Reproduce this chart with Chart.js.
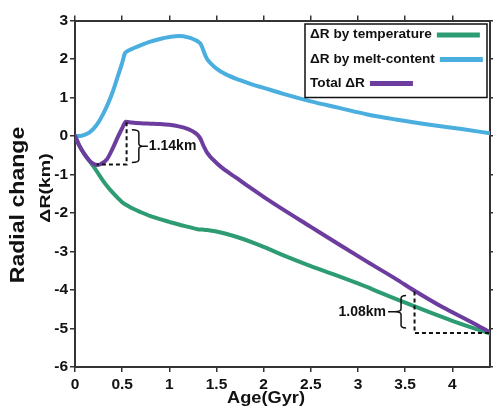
<!DOCTYPE html>
<html><head><meta charset="utf-8">
<script src="https://cdn.jsdelivr.net/npm/chart.js@4.4.0/dist/chart.umd.min.js"></script>
<style>html,body{margin:0;padding:0;background:#fff;}canvas{display:block;}</style>
</head><body>
<canvas id="c" width="493" height="409"></canvas>
<script>
// ---- data ----
const ageTemp = [0,0.05,0.1,0.15,0.2,0.25,0.3,0.35,0.4,0.45,0.5,0.55,0.6,0.7,0.8,0.9,1.0,1.1,1.2,1.3,1.35,1.4,1.5,1.6,1.75,1.9,2.0,2.25,2.5,2.75,3.0,3.25,3.5,3.75,4.0,4.2,4.4];
const dRTemp  = [0,-0.27,-0.47,-0.64,-0.8,-0.99,-1.17,-1.33,-1.47,-1.6,-1.72,-1.8,-1.87,-1.98,-2.08,-2.16,-2.23,-2.3,-2.36,-2.42,-2.43,-2.44,-2.48,-2.54,-2.65,-2.78,-2.88,-3.14,-3.38,-3.6,-3.83,-4.08,-4.33,-4.57,-4.8,-4.97,-5.13];
const ageMelt = [0,0.05,0.1,0.15,0.2,0.25,0.3,0.35,0.4,0.45,0.5,0.53,0.56,0.62,0.7,0.8,0.9,1.0,1.1,1.15,1.2,1.25,1.3,1.33,1.35,1.37,1.4,1.45,1.5,1.6,1.75,1.9,2.0,2.2,2.5,2.8,3.1,3.4,3.8,4.1,4.4];
const dRMelt  = [0,0,0.03,0.09,0.2,0.36,0.58,0.84,1.15,1.52,1.9,2.15,2.21,2.28,2.36,2.45,2.52,2.57,2.6,2.59,2.56,2.52,2.46,2.4,2.3,2.16,2.0,1.86,1.75,1.6,1.45,1.32,1.25,1.1,0.9,0.73,0.56,0.43,0.28,0.18,0.07];
const ageTotal = [0,0.05,0.1,0.15,0.2,0.24,0.28,0.34,0.4,0.45,0.5,0.54,0.6,0.7,0.8,0.9,1.0,1.1,1.2,1.25,1.3,1.33,1.36,1.4,1.5,1.6,1.7,1.85,2.0,2.2,2.5,2.8,3.1,3.4,3.6,3.9,4.2,4.4];
const dRTotal  = [0,-0.27,-0.47,-0.63,-0.73,-0.75,-0.72,-0.6,-0.32,-0.05,0.2,0.37,0.35,0.33,0.32,0.31,0.29,0.25,0.18,0.12,0.03,-0.07,-0.24,-0.43,-0.7,-0.9,-1.07,-1.33,-1.58,-1.9,-2.36,-2.82,-3.27,-3.71,-4.02,-4.45,-4.83,-5.1];

const seriesNames = ['ΔR by temperature','ΔR by melt-content','Total ΔR'];
const xTickValues = [0,0.5,1,1.5,2,2.5,3,3.5,4];
const xTickLabels = ['0','0.5','1','1.5','2','2.5','3','3.5','4'];
const yTickValues = [3,2,1,0,-1,-2,-3,-4,-5,-6];
const yTickLabels = ['3','2','1','0','-1','-2','-3','-4','-5','-6'];
const xTitle = 'Age(Gyr)';
const yTitle = 'ΔR(km)';
const yOuterTitle = 'Radial change';

// annotations (data coordinates)
const gapEarlyLabel = '1.14km';
const gapEarly = {peakAge:0.547, peakDR:0.36, minAge:0.23, minDR:-0.74, braceAge:0.677, braceTop:0.16, braceBottom:-0.69};
const gapLateLabel = '1.08km';
const gapLate = {age:3.6, topDR:-4.04, endAge:4.4, bottomDR:-5.12, braceAge:3.457, braceTop:-4.14, braceBottom:-4.99};

// ---- styles ----
const FONT = "'Liberation Sans', Arial, Helvetica, sans-serif";
const colors = ['#2e9c72', '#4aaedf', '#6c3d9e'];
const AXIS = '#333';

const toPts = (xs, ys) => xs.map((x, i) => ({x, y: ys[i]}));
const setTicks = (vals) => (s) => { s.ticks = vals.map(v => ({value: v})); };
const lbl = (vals, labels) => (v) => { const i = vals.findIndex(t => Math.abs(t - v) < 1e-9); return i >= 0 ? labels[i] : ''; };

const gridCfg = {display:true, drawOnChartArea:false, drawTicks:true, tickLength:5, color:AXIS, lineWidth:1.5};
const borderCfg = {display:true, color:AXIS, width:2};

function drawStretched(ctx, text, x, y, rot, font, sx, align) {
  ctx.save();
  ctx.translate(x, y);
  ctx.rotate(rot);
  ctx.scale(sx, 1);
  ctx.font = font;
  ctx.textAlign = align || 'center';
  ctx.textBaseline = 'middle';
  ctx.fillStyle = '#111';
  ctx.fillText(text, 0, 0);
  ctx.restore();
}

function brace(ctx, x, yTop, yBot, dir, w, tip, tail) {
  const yMid = (yTop + yBot) / 2, r = 3;
  ctx.beginPath();
  ctx.moveTo(x - dir * w, yTop);
  ctx.quadraticCurveTo(x, yTop, x, yTop + r);
  ctx.lineTo(x, yMid - r);
  ctx.quadraticCurveTo(x, yMid, x + dir * tip, yMid);
  ctx.quadraticCurveTo(x, yMid, x, yMid + r);
  ctx.lineTo(x, yBot - r);
  ctx.quadraticCurveTo(x, yBot, x - dir * w, yBot);
  ctx.moveTo(x + dir * tip, yMid);
  ctx.lineTo(x + dir * (tip + tail), yMid);
  ctx.stroke();
  return x + dir * (tip + tail);
}

const annotPlugin = {
  id: 'annot',
  afterDatasetsDraw(chart) {
    const {ctx} = chart;
    const xs = chart.scales.x, ys = chart.scales.y;
    const px = v => xs.getPixelForValue(v), py = v => ys.getPixelForValue(v);
    ctx.save();
    ctx.strokeStyle = '#111';
    ctx.lineWidth = 2;
    ctx.setLineDash([4, 3]);
    ctx.beginPath();
    ctx.moveTo(px(gapEarly.peakAge), py(gapEarly.peakDR));
    ctx.lineTo(px(gapEarly.peakAge), py(gapEarly.minDR));
    ctx.lineTo(px(gapEarly.minAge), py(gapEarly.minDR));
    ctx.moveTo(px(gapLate.age), py(gapLate.topDR));
    ctx.lineTo(px(gapLate.age), py(gapLate.bottomDR));
    ctx.lineTo(px(gapLate.endAge), py(gapLate.bottomDR));
    ctx.stroke();
    ctx.setLineDash([]);
    ctx.lineWidth = 1.5;
    const e1 = brace(ctx, px(gapEarly.braceAge), py(gapEarly.braceTop), py(gapEarly.braceBottom), 1, 7, 4, 5);
    const e2 = brace(ctx, px(gapLate.braceAge), py(gapLate.braceTop), py(gapLate.braceBottom), -1, 5, 6, 7);
    ctx.font = 'bold 14px ' + FONT;
    ctx.fillStyle = '#111';
    ctx.textBaseline = 'middle';
    ctx.textAlign = 'left';
    ctx.fillText(gapEarlyLabel, e1 + 1, (py(gapEarly.braceTop) + py(gapEarly.braceBottom)) / 2);
    ctx.textAlign = 'right';
    ctx.fillText(gapLateLabel, e2 - 2, (py(gapLate.braceTop) + py(gapLate.braceBottom)) / 2);
    ctx.restore();
  },
  afterDraw(chart) {
    const {ctx, chartArea: ca} = chart;
    drawStretched(ctx, xTitle, 266, 399, 0, 'bold 16px ' + FONT, 1.14);
    drawStretched(ctx, yTitle, 46, 188, -Math.PI / 2, 'bold 15px ' + FONT, 1.3);
    drawStretched(ctx, yOuterTitle, 18, 205, -Math.PI / 2, 'bold 21px ' + FONT, 1.1);
    const bx = ca.right - 185, by = ca.top + 3.5, bw = 182, bh = 73.5;
    ctx.save();
    ctx.fillStyle = '#fff';
    ctx.fillRect(bx, by, bw, bh);
    ctx.strokeStyle = '#111';
    ctx.lineWidth = 1.5;
    ctx.strokeRect(bx, by, bw, bh);
    const rows = [11, 35.5, 59.5];
    const font = 'bold 12.5px ' + FONT, sx = 1.09;
    seriesNames.forEach((name, i) => {
      const y = by + rows[i];
      drawStretched(ctx, name, bx + 5, y, 0, font, sx, 'left');
      ctx.font = font;
      const w = ctx.measureText(name).width * sx;
      ctx.strokeStyle = colors[i];
      ctx.lineWidth = 5;
      ctx.beginPath();
      ctx.moveTo(bx + 5 + w + 5, y);
      ctx.lineTo(bx + 5 + w + 48, y);
      ctx.stroke();
    });
    ctx.restore();
  }
};

new Chart(document.getElementById('c'), {
  type: 'line',
  data: {
    datasets: [
      {label: seriesNames[1], data: toPts(ageMelt, dRMelt), borderColor: colors[1], order: 3},
      {label: seriesNames[0], data: toPts(ageTemp, dRTemp), borderColor: colors[0], order: 2},
      {label: seriesNames[2], data: toPts(ageTotal, dRTotal), borderColor: colors[2], order: 1}
    ]
  },
  options: {
    responsive: false,
    animation: false,
    devicePixelRatio: 1,
    layout: {padding: 0},
    elements: {
      line: {borderWidth: 4, cubicInterpolationMode: 'monotone', borderCapStyle: 'round', borderJoinStyle: 'round'},
      point: {radius: 0}
    },
    plugins: {legend: {display: false}, tooltip: {enabled: false}},
    scales: {
      x: {
        type: 'linear', position: 'bottom', min: 0, max: 4.4,
        afterBuildTicks: setTicks(xTickValues),
        afterFit: s => { s.height = 42; },
        grid: gridCfg, border: borderCfg,
        ticks: {callback: lbl(xTickValues, xTickLabels), color: '#111', padding: 3, maxRotation: 0, autoSkip: false,
                font: {family: FONT, weight: 'bold', size: 15.5}}
      },
      x2: {
        type: 'linear', position: 'top', min: 0, max: 4.4,
        afterBuildTicks: setTicks(xTickValues),
        afterFit: s => { s.height = 20.5; },
        grid: gridCfg, border: borderCfg,
        ticks: {display: false}
      },
      y: {
        type: 'linear', position: 'left', min: -6, max: 3,
        afterBuildTicks: setTicks(yTickValues),
        afterFit: s => { s.width = 75; },
        grid: gridCfg, border: borderCfg,
        ticks: {callback: lbl(yTickValues, yTickLabels), color: '#111', padding: 2, autoSkip: false,
                font: {family: FONT, weight: 'bold', size: 15.5}}
      },
      y2: {
        type: 'linear', position: 'right', min: -6, max: 3,
        afterBuildTicks: setTicks(yTickValues),
        afterFit: s => { s.width = 3; },
        grid: gridCfg, border: borderCfg,
        ticks: {display: false}
      }
    }
  },
  plugins: [annotPlugin]
});
</script>
</body></html>
